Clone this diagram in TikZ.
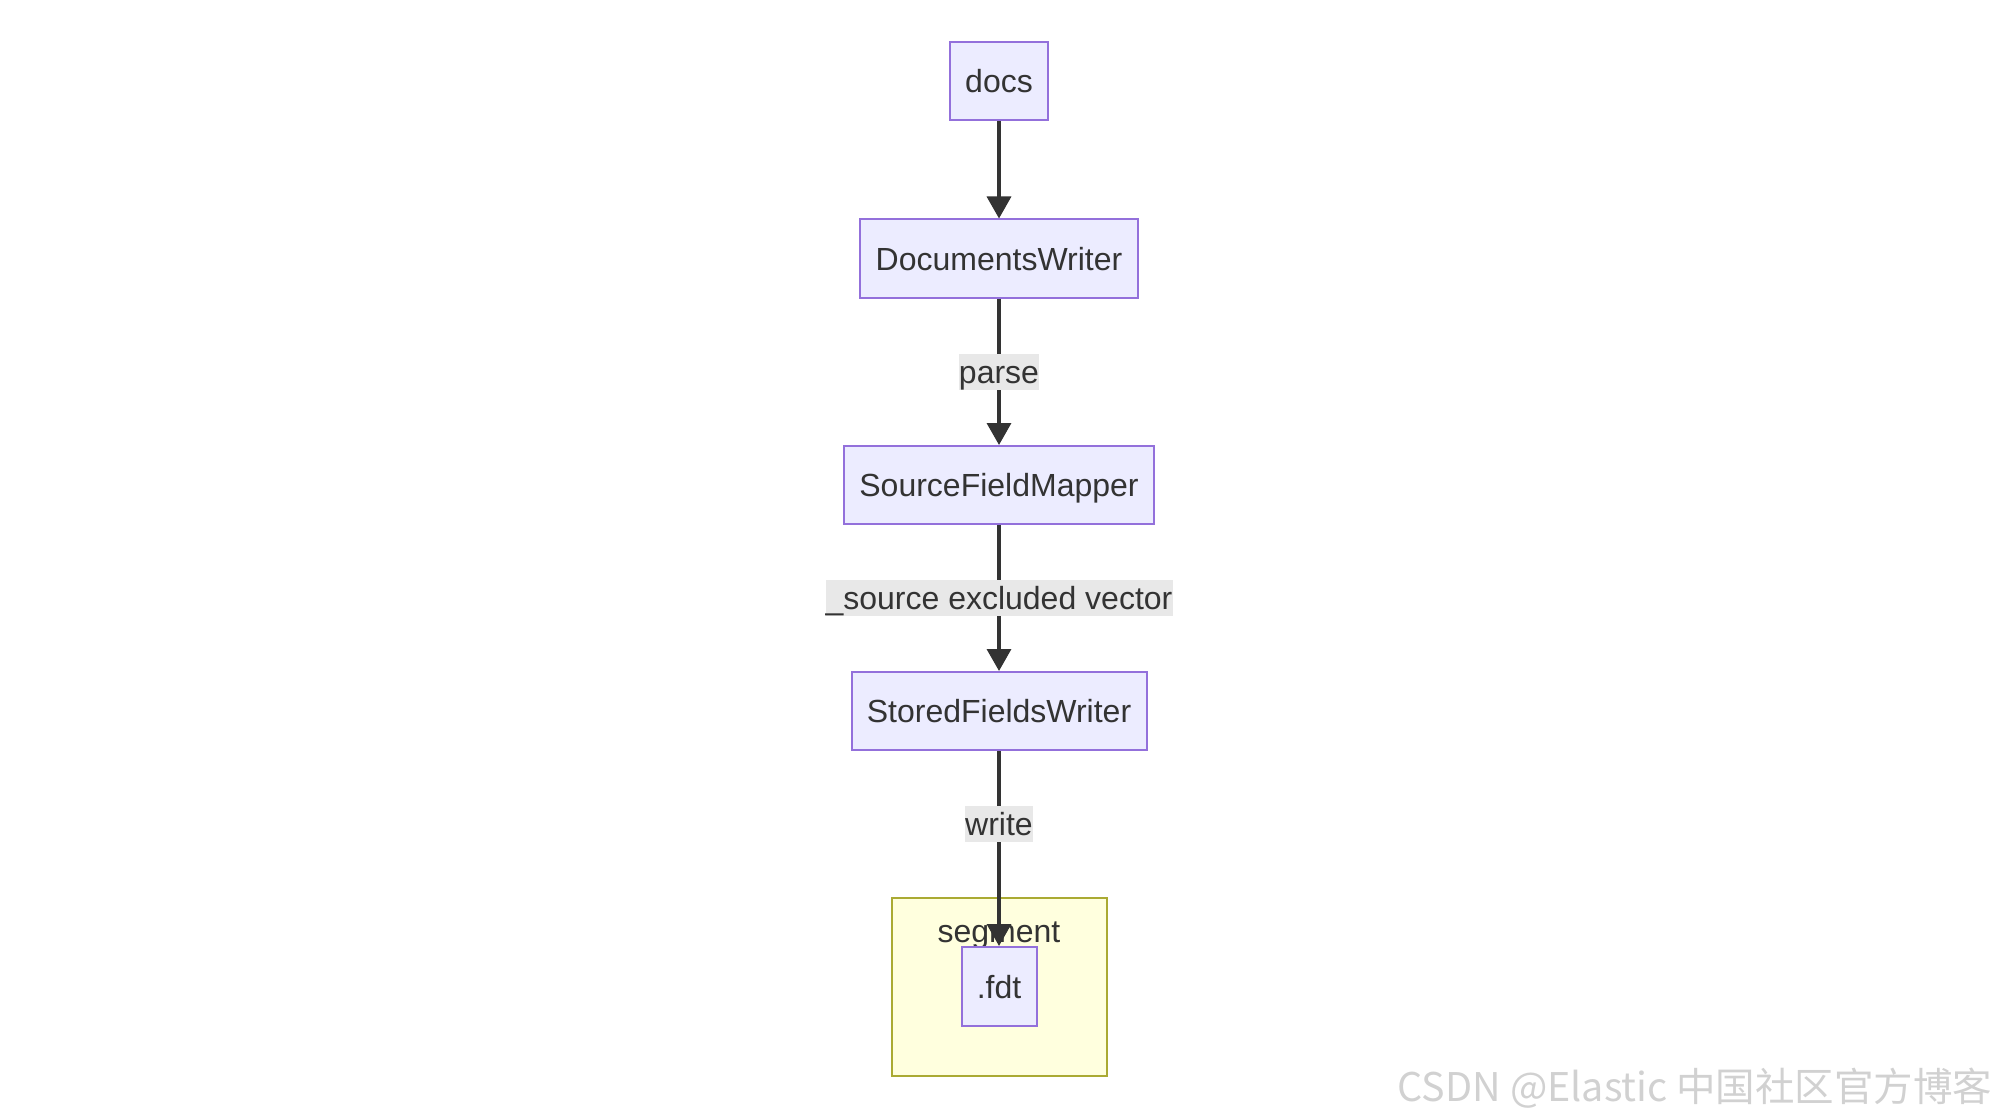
\documentclass[tikz,border=0pt]{standalone}
\usepackage{fontspec}
\setmainfont{Liberation Sans}
\newfontfamily\cjk{Noto Sans CJK SC}
\usetikzlibrary{arrows.meta}
\definecolor{boxfill}{HTML}{ECECFF}
\definecolor{boxline}{HTML}{9370DB}
\definecolor{labelfill}{HTML}{E8E8E8}
\definecolor{ink}{HTML}{333333}
\definecolor{segfill}{HTML}{FFFFDE}
\definecolor{segline}{HTML}{AAAA33}
\tikzstyle{caps}=[
  text height=29pt,
  text depth=6pt
]
\tikzstyle{block}=[
  caps,
  draw=boxline,
  fill=boxfill,
  line width=2pt,
  text=ink,
  minimum height=78pt,
  inner sep=0pt
]
\tikzstyle{edgelabel}=[
  caps,
  fill=labelfill,
  text=ink,
  minimum height=36pt,
  inner sep=0pt
]
\tikzstyle{flow}=[
  draw=ink,
  line width=3.5pt,
  -{Triangle[length=22pt,width=24pt]}
]

\begin{document}
\begin{tikzpicture}[x=1pt,y=-1pt,font=\fontsize{32}{38}\selectfont]
          \useasboundingbox (0,0) rectangle (2000,1118);

          \def \MidX {999}

          % cluster
          \draw[draw=segline, fill=segfill, line width=2pt] (892,898) rectangle (1107,1076);
          \node[caps, inner sep=0pt, text=ink] (seg) at (\MidX, 931) {segment};

          \node[block, minimum width=98pt] (docs) at (\MidX, 81) {docs};
          \node[block, minimum width=278pt] (dw) at (\MidX, 258.5) {DocumentsWriter};
          \node[block, minimum width=310pt] (sfm) at (\MidX, 485) {SourceFieldMapper};
          \node[block, minimum width=295pt] (sfw) at (\MidX, 711) {StoredFieldsWriter};
          \node[block, minimum width=75pt, minimum height=79pt] (fdt) at (\MidX, 986.5) {.fdt};

          \draw[flow] (docs) -- (dw);
          \draw[flow] (dw) -- (sfm);
          \draw[flow] (sfm) -- (sfw);
          \draw[flow] (sfw) -- (fdt);

          \node[edgelabel, minimum width=80pt] (parse) at (\MidX, 372) {parse};
          \node[edgelabel, minimum width=347pt] (excl) at (\MidX, 598) {\_source excluded vector};
          \node[edgelabel, minimum width=67pt] (write) at (\MidX, 824) {write};

          \node[anchor=east, text=black!18, font=\cjk\fontsize{39.5}{44}\selectfont] (mark) at (1996, 1088) {CSDN @Elastic 中国社区官方博客};
        \end{tikzpicture}
\end{document}
